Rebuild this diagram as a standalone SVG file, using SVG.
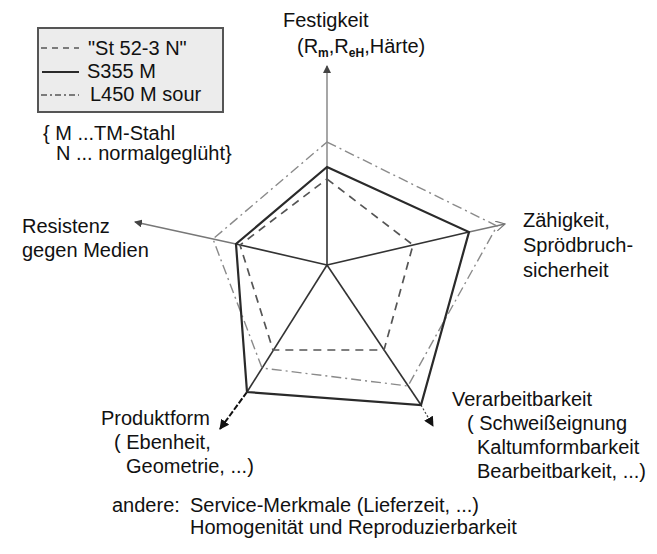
<svg xmlns="http://www.w3.org/2000/svg" width="657" height="554" viewBox="0 0 657 554">
<style>
text{font-family:"Liberation Sans",Arial,sans-serif;font-size:20px;fill:#111}
.sub{font-size:12px;font-weight:bold}
.solid{fill:none;stroke:#2a2a2a;stroke-width:2.2;stroke-linejoin:miter}
.dash{fill:none;stroke:#555;stroke-width:1.7;stroke-dasharray:8 6}
.dd{fill:none;stroke:#8a8a8a;stroke-width:1.4;stroke-dasharray:10 4 2 4}
.spoke{stroke:#333;stroke-width:1.6}
.ext{stroke:#777;stroke-width:1.3}
</style>
<defs>
<marker id="ah" markerWidth="8" markerHeight="8" refX="7" refY="4" orient="auto" markerUnits="userSpaceOnUse">
<path d="M0,0 L8,4 L0,8 Z" fill="#444"/>
</marker>
<marker id="ahk" markerWidth="10" markerHeight="10" refX="9" refY="5" orient="auto" markerUnits="userSpaceOnUse">
<path d="M0,0 L10,5 L0,10 Z" fill="#111"/>
</marker>
<marker id="aho" markerWidth="10" markerHeight="10" refX="9" refY="5" orient="auto" markerUnits="userSpaceOnUse">
<path d="M0,0 L9,5 L0,10" fill="none" stroke="#777" stroke-width="1.2"/>
</marker>
</defs>

<g id="legend">
<rect x="38" y="28" width="185" height="84" fill="#ececec" stroke="#555" stroke-width="2"/>
<line x1="41" y1="48" x2="79" y2="48" class="dash" style="stroke-dasharray:6 5"/>
<text x="88" y="55">"St 52-3 N"</text>
<line x1="42" y1="72" x2="79" y2="72" class="solid"/>
<text x="87" y="78">S355 M</text>
<line x1="41" y1="95" x2="79" y2="95" class="dd" style="stroke-dasharray:6 3 2 3;stroke:#555"/>
<text x="90" y="101">L450 M sour</text>
<text x="43" y="140">{ M ...TM-Stahl</text>
<text x="56" y="160">N ... normalgeglüht}</text>
</g>

<g id="connectors">
<line x1="327" y1="167" x2="327" y2="66" class="ext" marker-end="url(#ah)"/>
<line x1="469" y1="232" x2="505" y2="224" class="ext" marker-end="url(#aho)"/>
<line x1="236" y1="244" x2="135" y2="222" class="ext" marker-end="url(#ah)"/>
<line x1="247" y1="392" x2="220" y2="429" stroke="#111" stroke-width="2" stroke-dasharray="6 2" marker-end="url(#ahk)"/>
<line x1="421" y1="405" x2="433" y2="426" stroke="#444" stroke-width="1.2" stroke-dasharray="2 2" marker-end="url(#ahk)"/>
<g id="spokes">
<line x1="327" y1="265" x2="327" y2="167" class="spoke"/>
<line x1="327" y1="265" x2="469" y2="232" class="spoke"/>
<line x1="327" y1="265" x2="421" y2="405" class="spoke"/>
<line x1="327" y1="265" x2="247" y2="392" class="spoke"/>
<line x1="327" y1="265" x2="236" y2="244" class="spoke"/>
</g>
<polygon id="l450" class="dd" points="327,142 497,226 408,386 262,368 213,239"/>
<polygon id="st52" class="dash" points="327,179 413,245 384,350 273,350 240,245"/>
<polygon id="s355" class="solid" points="327,167 469,232 421,405 247,392 236,244"/>
</g>

<g id="festigkeit">
<text x="283" y="27">Festigkeit</text>
<text x="297" y="53">(R<tspan class="sub" dy="4">m</tspan><tspan dy="-4">,R</tspan><tspan class="sub" dy="4">eH</tspan><tspan dy="-4">,Härte)</tspan></text>
</g>
<g id="zaehigkeit">
<text x="523" y="227">Zähigkeit,</text>
<text x="523" y="252">Sprödbruch-</text>
<text x="523" y="277">sicherheit</text>
</g>
<g id="resistenz">
<text x="22" y="233">Resistenz</text>
<text x="22" y="257">gegen Medien</text>
</g>
<g id="produktform">
<text x="101" y="425">Produktform</text>
<text x="114" y="449">( Ebenheit,</text>
<text x="126" y="473">Geometrie, ...)</text>
</g>
<g id="verarbeitbarkeit">
<text x="452" y="406">Verarbeitbarkeit</text>
<text x="467" y="430">( Schweißeignung</text>
<text x="477" y="454">Kaltumformbarkeit</text>
<text x="477" y="478">Bearbeitbarkeit, ...)</text>
</g>
<g id="andere">
<text x="112" y="512">andere:</text>
<text x="190" y="512">Service-Merkmale (Lieferzeit, ...)</text>
<text x="190" y="534">Homogenität und Reproduzierbarkeit</text>
</g>
</svg>
